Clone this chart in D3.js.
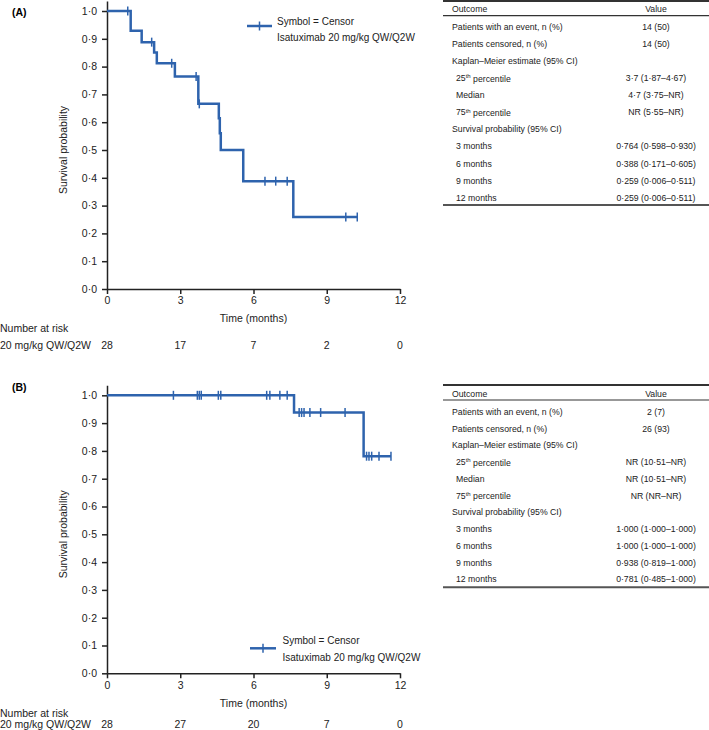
<!DOCTYPE html>
<html><head><meta charset="utf-8">
<script src="https://cdn.jsdelivr.net/npm/d3@7"></script>
<style>
body{margin:0;background:#fff;}
svg{display:block;font-family:"Liberation Sans",Arial,Helvetica,sans-serif;}
</style></head><body>
<svg id="c" width="709" height="730"></svg>
<script>
// ---------- data ----------
const timeTicks = [0, 3, 6, 9, 12];
const survTicks = [0, 0.1, 0.2, 0.3, 0.4, 0.5, 0.6, 0.7, 0.8, 0.9, 1.0];
const xLabel = "Time (months)";
const yLabel = "Survival probability";
const legendLines = ["Symbol = Censor", "Isatuximab 20 mg/kg QW/Q2W"];
const riskTitle = "Number at risk";
const riskLabel = "20 mg/kg QW/Q2W";
const atRiskA = [28, 17, 7, 2, 0];
const atRiskB = [28, 27, 20, 7, 0];

const eventTimesA = [0.97, 1.42, 1.93, 2.04, 2.78, 3.74, 4.58, 4.62, 4.66, 5.58, 7.63];
const survA       = [0.929, 0.888, 0.851, 0.812, 0.764, 0.666, 0.614, 0.560, 0.500, 0.388, 0.259];
const censorTimesA = [0.85, 1.83, 2.65, 3.65, 3.78, 6.47, 6.91, 7.38, 9.78, 10.25];
const lastTimeA = 10.25;

const eventTimesB = [7.66, 10.51];
const survB       = [0.938, 0.781];
const censorTimesB = [2.72, 3.70, 3.78, 3.86, 4.56, 4.66, 6.54, 6.67, 7.08, 7.38,
                      7.87, 7.97, 8.07, 8.31, 8.75, 9.75, 10.63, 10.73, 10.84, 11.14, 11.63];
const lastTimeB = 11.63;

const tableHeader = ["Outcome", "Value"];
const outcomeLabels = ["Patients with an event, n (%)", "Patients censored, n (%)",
  "Kaplan\u2013Meier estimate (95% CI)", "25^th percentile", "Median", "75^th percentile",
  "Survival probability (95% CI)", "3 months", "6 months", "9 months", "12 months"];
const outcomeIndent = [0, 0, 0, 1, 1, 1, 0, 1, 1, 1, 1];
const valuesA = ["14 (50)", "14 (50)", "", "3\u00b77 (1\u00b787\u20134\u00b767)", "4\u00b77 (3\u00b775\u2013NR)",
  "NR (5\u00b755\u2013NR)", "", "0\u00b7764 (0\u00b7598\u20130\u00b7930)", "0\u00b7388 (0\u00b7171\u20130\u00b7605)",
  "0\u00b7259 (0\u00b7006\u20130\u00b7511)", "0\u00b7259 (0\u00b7006\u20130\u00b7511)"];
const valuesB = ["2 (7)", "26 (93)", "", "NR (10\u00b751\u2013NR)", "NR (10\u00b751\u2013NR)",
  "NR (NR\u2013NR)", "", "1\u00b7000 (1\u00b7000\u20131\u00b7000)", "1\u00b7000 (1\u00b7000\u20131\u00b7000)",
  "0\u00b7938 (0\u00b7819\u20131\u00b7000)", "0\u00b7781 (0\u00b7485\u20131\u00b7000)"];

// ---------- drawing ----------
const svg = d3.select("#c");
svg.append("rect").attr("width", 709).attr("height", 730).attr("fill", "#fff");
const BLUE = "#2e63ad";
const FS = 10.5;
const fmtDot = d => d3.format(".1f")(d).replace(".", "\u00b7");

function panel(cfg) {
  const g = svg.append("g");
  const x = d3.scaleLinear().domain([0, 12]).range([107, 400]);
  const y = d3.scaleLinear().domain([0, 1.036]).range([cfg.y0, cfg.y0 - 288]);

  g.append("text").attr("x", 12).attr("y", cfg.labelY).attr("dy", "0.35em")
    .attr("font-weight", "bold").attr("font-size", FS).text(cfg.tag);

  const ya = g.append("g").attr("transform", `translate(${x(0)},0)`)
    .call(d3.axisLeft(y).tickValues(survTicks).tickFormat(fmtDot).tickSize(5).tickPadding(5).tickSizeOuter(0));
  const xa = g.append("g").attr("transform", `translate(0,${cfg.y0})`)
    .call(d3.axisBottom(x).tickValues(timeTicks).tickSize(5).tickPadding(3).tickSizeOuter(0));
  [ya, xa].forEach(a => {
    a.selectAll("path,line").attr("stroke", "#222").attr("stroke-width", 1.5);
    a.selectAll("text").attr("font-size", FS).attr("fill", "#222").attr("font-family", null);
  });

  g.append("text").attr("transform", `translate(63,${y(0.5)}) rotate(-90)`)
    .attr("text-anchor", "middle").attr("dy", "0.35em").attr("font-size", FS).attr("fill", "#222").text(yLabel);
  g.append("text").attr("x", x(6)).attr("y", cfg.y0 + cfg.xTitleOff).attr("dy", "0.35em")
    .attr("text-anchor", "middle").attr("font-size", FS).attr("fill", "#222").text(xLabel);

  // KM curve
  const pts = [[0, 1]].concat(cfg.times.map((t, i) => [t, cfg.surv[i]])).concat([[cfg.last, cfg.surv[cfg.surv.length - 1]]]);
  const line = d3.line().x(d => x(d[0])).y(d => y(d[1])).curve(d3.curveStepAfter);
  g.append("path").attr("d", line(pts)).attr("fill", "none").attr("stroke", BLUE).attr("stroke-width", 2.5);
  const survAt = t => { let s = 1; cfg.times.forEach((e, i) => { if (e <= t) s = cfg.surv[i]; }); return s; };
  g.selectAll(null).data(cfg.censors).join("line")
    .attr("x1", d => x(d)).attr("x2", d => x(d))
    .attr("y1", d => y(survAt(d)) - 4.5).attr("y2", d => y(survAt(d)) + 4.5)
    .attr("stroke", BLUE).attr("stroke-width", 1.5);

  // legend
  const L = cfg.legend;
  g.append("line").attr("x1", L.x1).attr("x2", L.x2).attr("y1", L.ly).attr("y2", L.ly)
    .attr("stroke", BLUE).attr("stroke-width", 2.5);
  g.append("line").attr("x1", (L.x1 + L.x2) / 2).attr("x2", (L.x1 + L.x2) / 2)
    .attr("y1", L.ly - 4.5).attr("y2", L.ly + 4.5).attr("stroke", BLUE).attr("stroke-width", 1.5);
  legendLines.forEach((s, i) => g.append("text").attr("x", L.tx).attr("y", L.ty[i]).attr("dy", "0.35em")
    .attr("font-size", 10).attr("fill", "#222").text(s));

  // number at risk
  g.append("text").attr("x", 0).attr("y", cfg.riskY[0]).attr("dy", "0.35em").attr("font-size", FS).attr("fill", "#222").text(riskTitle);
  g.append("text").attr("x", 0).attr("y", cfg.riskY[1]).attr("dy", "0.35em").attr("font-size", FS).attr("fill", "#222").text(riskLabel);
  g.selectAll(null).data(cfg.risk).join("text")
    .attr("x", (d, i) => x(timeTicks[i])).attr("y", cfg.riskY[1]).attr("dy", "0.35em")
    .attr("text-anchor", "middle").attr("font-size", FS).attr("fill", "#222").text(d => d);

  // table
  const T = cfg.table;
  const tg = svg.append("g");
  const TFS = 8.7;
  tg.append("line").attr("x1", 443).attr("x2", 709).attr("y1", T.top).attr("y2", T.top).attr("stroke", "#333").attr("stroke-width", 2);
  tg.append("text").attr("x", 452).attr("y", T.head).attr("dy", "0.35em").attr("font-size", TFS).attr("fill", "#222").text(tableHeader[0]);
  tg.append("text").attr("x", 656).attr("y", T.head).attr("dy", "0.35em").attr("text-anchor", "middle").attr("font-size", TFS).attr("fill", "#222").text(tableHeader[1]);
  tg.append("line").attr("x1", 443).attr("x2", 709).attr("y1", T.hline).attr("y2", T.hline).attr("stroke", "#333").attr("stroke-width", 1.2);
  outcomeLabels.forEach((lab, i) => {
    const yy = T.row0 + i * T.step;
    const t = tg.append("text").attr("x", outcomeIndent[i] ? 456 : 452).attr("y", yy).attr("dy", "0.35em")
      .attr("font-size", TFS).attr("fill", "#222");
    const m = lab.match(/^(.*?)\^(\w+)(.*)$/);
    if (m) {
      t.append("tspan").text(m[1]);
      t.append("tspan").attr("font-size", 6).attr("dy", "-0.45em").text(m[2]);
      t.append("tspan").attr("dy", "0.38em").text(m[3]);
    } else t.text(lab);
    tg.append("text").attr("x", 656).attr("y", yy).attr("dy", "0.35em").attr("text-anchor", "middle")
      .attr("font-size", TFS).attr("fill", "#222").text(cfg.values[i]);
  });
  tg.append("line").attr("x1", 443).attr("x2", 709).attr("y1", T.bottom).attr("y2", T.bottom).attr("stroke", "#555").attr("stroke-width", 2);
}

panel({tag: "(A)", labelY: 12, y0: 289, xTitleOff: 29,
  times: eventTimesA, surv: survA, censors: censorTimesA, last: lastTimeA, risk: atRiskA,
  riskY: [328, 345],
  legend: {x1: 247, x2: 272, ly: 26, tx: 277, ty: [21, 37]},
  table: {top: 1, head: 9, hline: 15.7, row0: 26.7, step: 17.1, bottom: 205},
  values: valuesA});

panel({tag: "(B)", labelY: 387, y0: 673.3, xTitleOff: 30,
  times: eventTimesB, surv: survB, censors: censorTimesB, last: lastTimeB, risk: atRiskB,
  riskY: [713, 724.5],
  legend: {x1: 250, x2: 276, ly: 648.3, tx: 282.5, ty: [640.7, 657.3]},
  table: {top: 385, head: 393.5, hline: 400, row0: 411.7, step: 16.76, bottom: 587.3},
  values: valuesB});
</script>
</body></html>
